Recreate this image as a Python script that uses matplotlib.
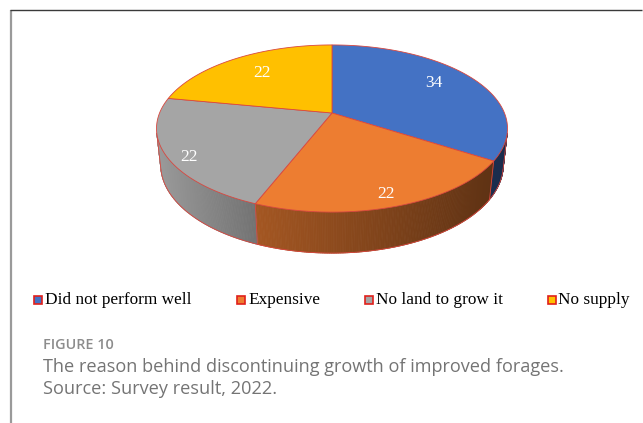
import numpy as np
import matplotlib.pyplot as plt
from matplotlib.patches import Polygon, Rectangle
from matplotlib.colors import to_rgb

reasons = ["Did not perform well", "Expensive", "No land to grow it", "No supply"]
percent = [34, 22, 22, 22]
colors = ["#4472C4", "#ED7D31", "#A5A5A5", "#FFC000"]

# camera for the tilted disc (pixel space)
cx, cy = 332, 113
focal, dist = 821, 4.761
elev = np.radians(27.9)
thick = 0.241
edge = "#D9473F"


def project(theta, r=1.0, h=0.0):
    u = r * np.sin(theta)
    z = r * np.cos(theta)
    depth = dist + z * np.cos(elev) - h * np.sin(elev)
    x = cx + focal * u / depth
    y = cy - focal * (z * np.sin(elev) + h * np.cos(elev)) / depth
    return x, y


def shade(x):
    # side walls darken from left to right
    return np.interp(x, [156, 258, 508], [0.94, 0.69, 0.38])


fig = plt.figure(figsize=(6.43, 4.23), dpi=100)
ax = fig.add_axes([0, 0, 1, 1])
ax.set_xlim(0, 643)
ax.set_ylim(423, 0)
ax.axis("off")

fractions = np.array(percent) / sum(percent)
bounds = np.concatenate([[0], np.cumsum(fractions)]) * 2 * np.pi

# the wall faces the camera only inside this range of angles
lim = np.arccos(-1 / (dist * np.cos(elev)))
vis_lo, vis_hi = lim, 2 * np.pi - lim

# side walls as thin strips so they can carry the gradient
for i in range(len(percent)):
    a0, a1 = max(bounds[i], vis_lo), min(bounds[i + 1], vis_hi)
    if a1 <= a0:
        continue
    t = np.linspace(a0, a1, int(np.degrees(a1 - a0) * 2) + 2)
    base = np.array(to_rgb(colors[i]))
    for a, b in zip(t[:-1], t[1:]):
        xs, ys = zip(project(a), project(b), project(b, h=-thick), project(a, h=-thick))
        c = np.clip(base * shade(np.mean(xs)), 0, 1)
        ax.add_patch(Polygon(list(zip(xs, ys)), closed=True, facecolor=c,
                             edgecolor=c, lw=0.6, zorder=1))

# outline of the visible wall
t = np.linspace(vis_lo, vis_hi, 300)
bx, by = project(t, h=-thick)
ax.plot(bx, by, color=edge, lw=0.6, zorder=2)
for a in [vis_lo, vis_hi] + [b for b in bounds if vis_lo < b < vis_hi]:
    x0, y0 = project(a)
    x1, y1 = project(a, h=-thick)
    ax.plot([x0, x1], [y0, y1], color=edge, lw=0.6, zorder=2)

# top faces
for i in range(len(percent)):
    t = np.linspace(bounds[i], bounds[i + 1], 200)
    xs, ys = project(t)
    pts = [(cx, cy)] + list(zip(xs, ys))
    ax.add_patch(Polygon(pts, closed=True, facecolor=colors[i],
                         edgecolor=edge, lw=0.6, zorder=3))

# value labels
label_r = [0.72, 0.86, 0.87, 0.70]
label_dy = [-4, 3, 7, 0]
for i, v in enumerate(percent):
    mid = (bounds[i] + bounds[i + 1]) / 2
    lx, ly = project(mid, r=label_r[i])
    ax.text(lx, ly + label_dy[i], str(v), color="white", fontsize=12.5,
            family="Liberation Serif", ha="center", va="center", zorder=4)

# legend
legend_x = [38, 241, 368.5, 551.5]
for x, name, col in zip(legend_x, reasons, colors):
    ax.add_patch(Rectangle((x - 4, 296), 8, 8, facecolor=col,
                           edgecolor="#E0201B", lw=1.2, zorder=4))
    ax.text(x + 7, 300, name, fontsize=12.4, family="Liberation Serif",
            ha="left", va="center", color="black")

# frame
ax.plot([10.5, 10.5], [10, 423], color="#9a9a9a", lw=1.6, solid_capstyle="butt")
ax.plot([10, 642], [10.5, 10.5], color="#3a3a3a", lw=1.0, solid_capstyle="butt")

# caption
ax.text(43, 345, "FIGURE 10", fontsize=10.4, family="Open Sans", weight="semibold",
        color="#8c8c8c", ha="left", va="center")
ax.text(43, 367, "The reason behind discontinuing growth of improved forages.",
        fontsize=13.1, family="Open Sans", color="#747474", ha="left", va="center")
ax.text(43, 389, "Source: Survey result, 2022.",
        fontsize=13.1, family="Open Sans", color="#747474", ha="left", va="center")

fig.savefig("out.png", dpi=100)
